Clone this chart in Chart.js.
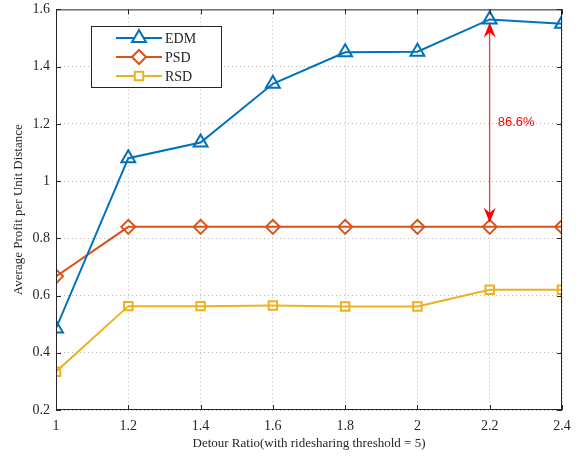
<!DOCTYPE html>
<html>
<head>
<meta charset="utf-8">
<script src="https://cdn.jsdelivr.net/npm/chart.js@4.4.0/dist/chart.umd.min.js"></script>
<style>
  body { margin: 0; background: #fff; overflow: hidden; }
  #wrap { width: 580px; height: 464px; margin-top: -5px; }
</style>
</head>
<body>
<div id="wrap"><canvas id="chartLine"></canvas></div>
<script>
// DATA
var ratios = [1, 1.2, 1.4, 1.6, 1.8, 2, 2.2, 2.4];
var edm = [0.485, 1.08, 1.135, 1.34, 1.45, 1.452, 1.565, 1.55];
var psd = [0.667, 0.84, 0.84, 0.84, 0.84, 0.84, 0.84, 0.84];
var rsd = [0.334, 0.563, 0.563, 0.565, 0.562, 0.562, 0.62, 0.62];
var gapLabel = "86.6%";
var gapIndex = 6;

function pts(arr) {
  return arr.map(function (v, i) { return { x: ratios[i], y: v }; });
}

var serif = "'Liberation Serif', 'DejaVu Serif', serif";
var ink = "#262626";

// box, inward ticks, legend and arrow
var extras = {
  id: 'extras',
  afterDraw: function (chart) {
    var ctx = chart.ctx;
    var a = chart.chartArea;
    var xs = chart.scales.x, ys = chart.scales.y;
    ctx.save();
    ctx.strokeStyle = ink;
    ctx.lineWidth = 1;
    ctx.strokeRect(a.left + 0.5, a.top + 0.5, a.right - a.left - 1, a.bottom - a.top - 1);
    ctx.beginPath();
    xs.ticks.forEach(function (t) {
      var px = Math.round(xs.getPixelForValue(t.value)) + 0.5;
      ctx.moveTo(px, a.bottom); ctx.lineTo(px, a.bottom - 5);
      ctx.moveTo(px, a.top); ctx.lineTo(px, a.top + 5);
    });
    ys.ticks.forEach(function (t) {
      var py = Math.round(ys.getPixelForValue(t.value)) + 0.5;
      ctx.moveTo(a.left, py); ctx.lineTo(a.left + 5, py);
      ctx.moveTo(a.right, py); ctx.lineTo(a.right - 5, py);
    });
    ctx.stroke();

    // arrow between EDM and PSD
    var ax = xs.getPixelForValue(ratios[gapIndex]);
    var y1 = ys.getPixelForValue(edm[gapIndex]) + 3;
    var y2 = ys.getPixelForValue(psd[gapIndex]) - 4;
    ctx.strokeStyle = "#ff0000";
    ctx.fillStyle = "#ff0000";
    ctx.lineWidth = 1;
    ctx.beginPath();
    ctx.moveTo(ax, y1 + 10); ctx.lineTo(ax, y2 - 10);
    ctx.stroke();
    ctx.beginPath();
    ctx.moveTo(ax, y1); ctx.lineTo(ax - 6, y1 + 15); ctx.lineTo(ax, y1 + 10); ctx.lineTo(ax + 6, y1 + 15); ctx.closePath();
    ctx.fill();
    ctx.beginPath();
    ctx.moveTo(ax, y2); ctx.lineTo(ax - 6, y2 - 15); ctx.lineTo(ax, y2 - 10); ctx.lineTo(ax + 6, y2 - 15); ctx.closePath();
    ctx.fill();
    ctx.font = "13px 'Liberation Sans', Arial, sans-serif";
    ctx.textAlign = "left";
    ctx.textBaseline = "middle";
    ctx.fillText(gapLabel, ax + 8, ys.getPixelForValue((edm[gapIndex] + psd[gapIndex]) / 2) - 1);

    // legend (canvas is shifted up 5px, so add 5 to y)
    var lx = 91, ly = 31, lw = 130, lh = 61;
    ctx.fillStyle = "#fff";
    ctx.fillRect(lx, ly, lw, lh);
    ctx.strokeStyle = ink;
    ctx.lineWidth = 1;
    ctx.strokeRect(lx + 0.5, ly + 0.5, lw, lh);
    ctx.font = "14px " + serif;
    chart.data.datasets.forEach(function (ds, i) {
      var cy = ly + 12 + i * 19;
      ctx.strokeStyle = ds.borderColor;
      ctx.lineWidth = 2;
      ctx.beginPath();
      ctx.moveTo(116, cy); ctx.lineTo(162, cy);
      ctx.stroke();
      ctx.fillStyle = "#fff";
      Chart.helpers.drawPoint(ctx, {
        pointStyle: ds.pointStyle, radius: ds.pointRadius, borderWidth: 2
      }, 139, cy);
      ctx.fillStyle = ink;
      ctx.fillText(ds.label, 165, cy + 1);
    });
    ctx.restore();
  }
};

var lineData = {
  datasets: [
    {
      label: "EDM", data: pts(edm), borderColor: "#0072BD",
      pointStyle: "triangle", pointRadius: 8
    },
    {
      label: "PSD", data: pts(psd), borderColor: "#D95319",
      pointStyle: "rectRot", pointRadius: 7
    },
    {
      label: "RSD", data: pts(rsd), borderColor: "#EDB120",
      pointStyle: "rect", pointRadius: 6
    }
  ]
};
lineData.datasets.forEach(function (ds) {
  ds.borderWidth = 2;
  ds.pointBorderWidth = 2;
  ds.pointBackgroundColor = "rgba(0,0,0,0)";
  ds.pointBorderColor = ds.borderColor;
  ds.tension = 0;
});

var configLine = {
  type: "line",
  data: lineData,
  plugins: [extras],
  options: {
    responsive: true,
    maintainAspectRatio: false,
    animation: false,
    layout: { padding: { left: 7, right: 18, top: 5, bottom: 4 } },
    plugins: { legend: { display: false }, tooltip: { enabled: false } },
    scales: {
      x: {
        type: "linear", min: 1, max: 2.4,
        afterFit: function (s) { s.height = 45; },
        ticks: {
          stepSize: 0.2, color: ink, padding: 8,
          font: { family: serif, size: 14 },
          callback: function (v) { return String(Math.round(v * 10) / 10); }
        },
        grid: { color: "#b8b8b8", lineWidth: 1, drawTicks: false },
        border: { display: false, dash: [1, 3] },
        title: {
          display: true, text: "Detour Ratio(with ridesharing threshold = 5)",
          color: ink, font: { family: serif, size: 13 }, padding: { top: 2 }
        }
      },
      y: {
        min: 0.2, max: 1.6,
        afterFit: function (s) { s.width = 49; },
        ticks: {
          stepSize: 0.2, color: ink, padding: 6,
          font: { family: serif, size: 14 },
          callback: function (v) { return String(Math.round(v * 10) / 10); }
        },
        grid: { color: "#b8b8b8", lineWidth: 1, drawTicks: false },
        border: { display: false, dash: [1, 3] },
        title: {
          display: true, text: "Average Profit per Unit Distance",
          color: ink, font: { family: serif, size: 13 }, padding: { bottom: 2 }
        }
      }
    }
  }
};

var chartLine = new Chart(document.getElementById("chartLine"), configLine);
</script>
</body>
</html>
